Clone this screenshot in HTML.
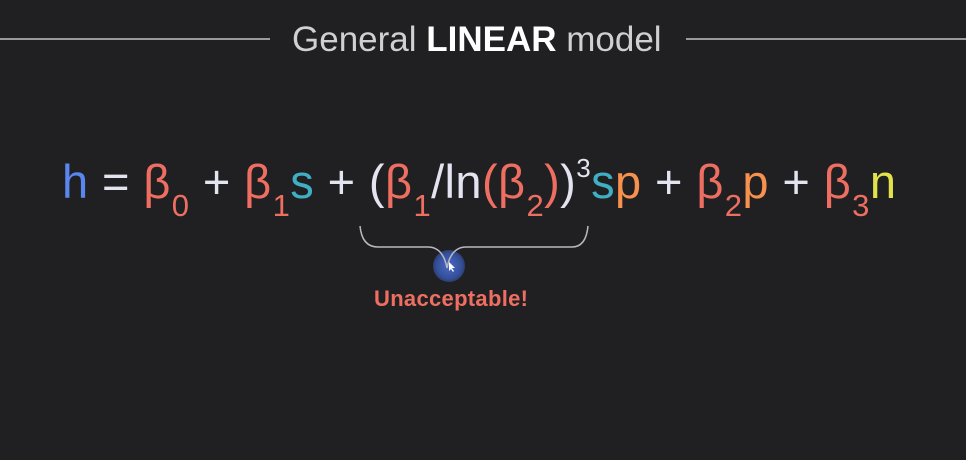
<!DOCTYPE html>
<html><head><meta charset="utf-8"><style>
html,body{margin:0;padding:0;}
body{width:966px;height:460px;background:#202022;position:relative;overflow:hidden;font-family:"Liberation Sans",sans-serif;}
.line{position:absolute;top:38px;height:2px;background:#9a9a9c;}
.title{position:absolute;left:292px;top:18px;width:372px;white-space:nowrap;font-size:35px;color:#d0d0d2;line-height:44px;text-align:left;}
.title b{color:#fff;}
.eq{position:absolute;left:62px;top:152px;white-space:nowrap;font-size:47px;line-height:60px;color:#e4e4f0;letter-spacing:0.4px;}
.eq sub{font-size:31px;position:relative;top:18px;vertical-align:baseline;line-height:0;margin-left:1px;}
.eq sup{font-size:26px;position:relative;top:-4px;vertical-align:super;line-height:0;}
.r{color:#ee6f62;}.b{color:#5a86f0;}.c{color:#3fb0c4;}.o{color:#f7914e;}.y{color:#e2e24a;}
.un{position:absolute;left:374px;top:286px;font-size:22px;font-weight:bold;color:#ee6f62;letter-spacing:0.3px;}
.glow{position:absolute;left:433px;top:250px;width:32px;height:32px;border-radius:50%;background:radial-gradient(circle,#4a68c8 0%,#34509a 55%,rgba(40,60,130,0) 100%);}
</style></head><body>
<div class="line" style="left:0;width:270px"></div>
<div class="line" style="left:686px;width:280px"></div>
<div class="title">General <b>LINEAR</b> model</div>
<div class="eq"><span class="b">h</span> = <span class="r">β<sub>0</sub></span> + <span class="r">β<sub>1</sub></span><span class="c">s</span> + (<span class="r">β<sub>1</sub></span>/ln<span class="r">(β<sub>2</sub>)</span>)<sup>3</sup><span class="c">s</span><span class="o">p</span> + <span class="r">β<sub>2</sub></span><span class="o">p</span> + <span class="r">β<sub>3</sub></span><span class="y">n</span></div>
<div class="glow"></div>
<svg style="position:absolute;left:0;top:0" width="966" height="460">
<path d="M360 226 Q362 247 378 247 L428 247 Q443 247 447 268 Q451 247 466 247 L572 247 Q586 247 588 226" fill="none" stroke="#b8b8c0" stroke-width="1.5"/>
<path d="M449 262 L449 271 L451 269 L453 272 L454 271 L452 268 L455 268 Z" fill="#fff"/>
</svg>
<div class="un">Unacceptable!</div>
</body></html>
